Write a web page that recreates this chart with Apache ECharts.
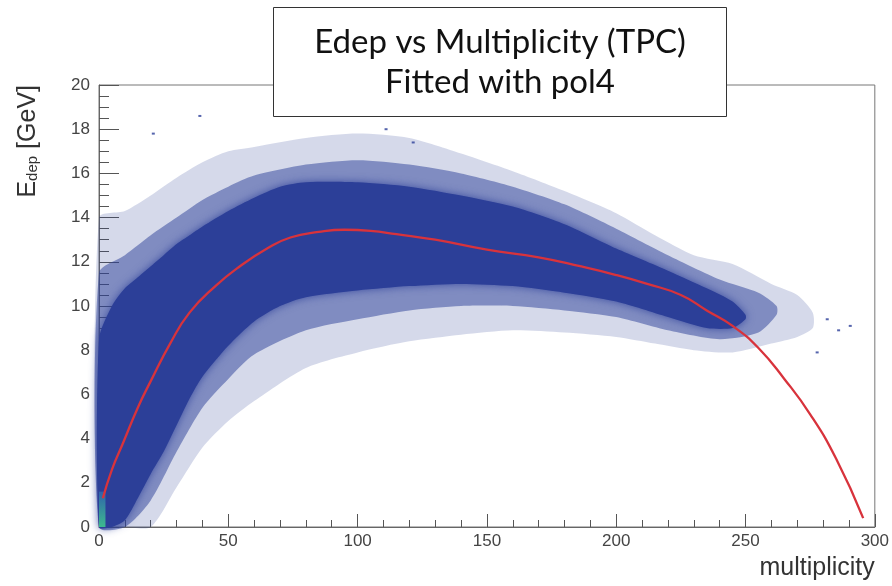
<!DOCTYPE html>
<html>
<head>
<meta charset="utf-8">
<script src="https://cdn.jsdelivr.net/npm/echarts@6/dist/echarts.min.js"></script>
<style>
  html, body { margin: 0; padding: 0; background: #fff; }
  #main { width: 892px; height: 586px; }
</style>
</head>
<body>
<div id="main"></div>
<script>
// Edep vs multiplicity, dense 2D histogram read as envelopes
var xTicks = [0, 50, 100, 150, 200, 250, 300];
var yTicks = [0, 2, 4, 6, 8, 10, 12, 14, 16, 18, 20];

// dense (solid) part of the cloud
var coreX    = [0, 5, 10, 15, 20, 25, 30, 35, 40, 50, 60, 70, 80, 100, 120, 140, 160, 180, 200, 220, 235, 245, 250];
var coreLow  = [0, 0, 0.3, 1.3, 2.4, 3.4, 4.6, 5.8, 6.8, 8.2, 9.3, 10.0, 10.4, 10.7, 10.9, 11.0, 10.9, 10.6, 10.2, 9.5, 9.0, 9.0, 9.4];
var coreHigh = [8.5, 10.0, 10.8, 11.3, 11.8, 12.3, 12.8, 13.2, 13.6, 14.3, 14.9, 15.4, 15.6, 15.6, 15.4, 15.0, 14.5, 13.7, 12.6, 11.6, 10.8, 10.2, 9.6];

// heavily speckled zone around the core
var midX    = [0, 10, 20, 30, 40, 50, 60, 80, 100, 120, 140, 160, 180, 200, 220, 240, 255, 262];
var midLow  = [0, 0, 1.2, 3.4, 5.4, 6.7, 7.8, 8.9, 9.4, 9.8, 10.0, 10.0, 9.8, 9.5, 8.9, 8.5, 8.8, 9.6];
var midHigh = [11.5, 12.3, 13.2, 14.0, 14.8, 15.4, 15.9, 16.4, 16.6, 16.4, 16.0, 15.4, 14.6, 13.5, 12.3, 11.2, 10.6, 10.0];

// sparse fringe
var fringeX    = [0, 10, 20, 30, 40, 50, 60, 80, 100, 120, 140, 160, 180, 200, 215, 230, 245, 260, 270, 276];
var fringeLow  = [0, 0, 0, 1.8, 3.6, 4.8, 5.7, 7.2, 7.9, 8.4, 8.7, 8.9, 8.8, 8.6, 8.3, 8.0, 7.9, 8.3, 8.6, 9.0];
var fringeHigh = [14.0, 14.3, 15.0, 15.8, 16.5, 17.0, 17.2, 17.6, 17.8, 17.6, 16.9, 16.1, 15.2, 14.2, 13.2, 12.3, 11.9, 11.0, 10.5, 9.7];

// hottest bins in the corner
var hotX    = [0, 2.5];
var hotLow  = [0, 0];
var hotHigh = [1.6, 1.6];

// isolated entries outside the cloud
var strayX = [21, 39, 111, 121.5, 277.7, 281.6, 286, 290.5];
var strayY = [17.8, 18.6, 18.0, 17.4, 7.9, 9.4, 8.9, 9.1];

// pol4 fit
var fitX = [1.5, 5, 9.3, 15, 20, 27.5, 35, 45, 54.5, 65, 74, 85, 95, 105, 115, 130, 150, 170, 186, 200, 212, 225, 235, 245, 255, 265, 275, 285, 295.5];
var fitY = [1.3, 2.6, 3.8, 5.4, 6.6, 8.3, 9.7, 10.9, 11.8, 12.6, 13.1, 13.35, 13.45, 13.4, 13.25, 13.0, 12.55, 12.2, 11.8, 11.4, 11.0, 10.5, 9.8, 9.1, 8.1, 6.7, 5.1, 3.1, 0.4];

function pairs(xs, ys) {
    return xs.map(function (x, i) { return [x, ys[i]]; });
}
function triples(xs, lo, hi) {
    return xs.map(function (x, i) { return [x, lo[i], hi[i]]; });
}

var blue = '#2c3f98';
var axisFont = 'Liberation Sans';

// one polygon per band: lower edge left->right, upper edge back
function bandSeries(xs, lo, hi, style, smooth) {
    return {
        type: 'custom',
        silent: true,
        data: triples(xs, lo, hi),
        encode: { x: 0, y: [1, 2] },
        renderItem: function (params, api) {
            if (params.dataIndex !== 0) return;
            var pts = [];
            for (var i = 0; i < xs.length; i++) pts.push(api.coord([xs[i], lo[i]]));
            for (var j = xs.length - 1; j >= 0; j--) pts.push(api.coord([xs[j], hi[j]]));
            return {
                type: 'polygon',
                shape: { points: pts, smooth: smooth },
                style: style
            };
        }
    };
}

var myChart = echarts.init(document.getElementById('main'));

var option = {
    animation: false,
    title: {
        text: 'Edep vs Multiplicity (TPC)\nFitted with pol4',
        left: 459,
        top: 7,
        textAlign: 'center',
        backgroundColor: '#fff',
        borderColor: '#333',
        borderWidth: 1,
        padding: [15, 41, 15, 41],
        textStyle: {
            fontFamily: 'Lato',
            fontSize: 33,
            fontWeight: 'normal',
            color: '#111',
            lineHeight: 40
        }
    },
    grid: {
        left: 99,
        right: 16,
        top: 85,
        bottom: 59,
        show: true,
        borderColor: '#777',
        borderWidth: 1
    },
    xAxis: {
        type: 'value',
        min: 0,
        max: 300,
        interval: 50,
        name: 'multiplicity',
        nameLocation: 'end',
        nameGap: 0,
        nameTextStyle: {
            fontFamily: axisFont,
            fontSize: 25,
            color: '#333',
            align: 'right',
            verticalAlign: 'top',
            padding: [29, 0, 0, 0]
        },
        axisLine: { lineStyle: { color: '#666' } },
        axisTick: { inside: true, length: 13, lineStyle: { color: '#555' } },
        minorTick: { show: true, splitNumber: 5, length: 7, lineStyle: { color: '#555' } },
        splitLine: { show: false },
        axisLabel: {
            fontFamily: axisFont,
            fontSize: 17,
            color: '#444',
            margin: 6,
            formatter: function (v) { return xTicks.indexOf(v) >= 0 ? v : ''; }
        }
    },
    yAxis: {
        type: 'value',
        min: 0,
        max: 20,
        interval: 2,
        name: '{e|E}{s|dep}{e| [GeV]}',
        nameLocation: 'end',
        nameRotate: 90,
        nameGap: 0,
        nameTextStyle: {
            align: 'right',
            verticalAlign: 'bottom',
            padding: [0, 0, 58, 0],
            rich: {
                e: { fontFamily: axisFont, fontSize: 25, color: '#333' },
                s: { fontFamily: axisFont, fontSize: 15, color: '#333', padding: [9, 0, 0, 0] }
            }
        },
        axisLine: { lineStyle: { color: '#666' } },
        axisTick: { inside: true, length: 20, lineStyle: { color: '#555' } },
        minorTick: { show: true, splitNumber: 4, length: 10, lineStyle: { color: '#555' } },
        splitLine: { show: false },
        axisLabel: {
            fontFamily: axisFont,
            fontSize: 17,
            color: '#444',
            margin: 9,
            formatter: function (v) { return yTicks.indexOf(v) >= 0 ? v : ''; }
        }
    },
    series: [
        bandSeries(fringeX, fringeLow, fringeHigh, { fill: 'rgba(44,63,152,0.2)' }, 0.25),
        bandSeries(midX, midLow, midHigh, { fill: 'rgba(44,63,152,0.5)' }, 0.25),
        bandSeries(coreX, coreLow, coreHigh, {
            fill: blue,
            shadowBlur: 8,
            shadowColor: 'rgba(44,63,152,0.8)'
        }, 0.25),
        bandSeries(hotX, hotLow, hotHigh, {
            fill: new echarts.graphic.LinearGradient(0, 0, 0, 1, [
                { offset: 0, color: '#2f62ac' },
                { offset: 1, color: '#3dba8e' }
            ])
        }, 0),
        {
            type: 'scatter',
            data: pairs(strayX, strayY),
            symbol: 'rect',
            symbolSize: [3, 2],
            itemStyle: { color: blue },
            silent: true
        },
        {
            name: 'pol4',
            type: 'line',
            data: pairs(fitX, fitY),
            smooth: true,
            symbol: 'none',
            lineStyle: { color: '#d8333c', width: 2.3 },
            z: 5
        }
    ]
};

myChart.setOption(option);
</script>
</body>
</html>
